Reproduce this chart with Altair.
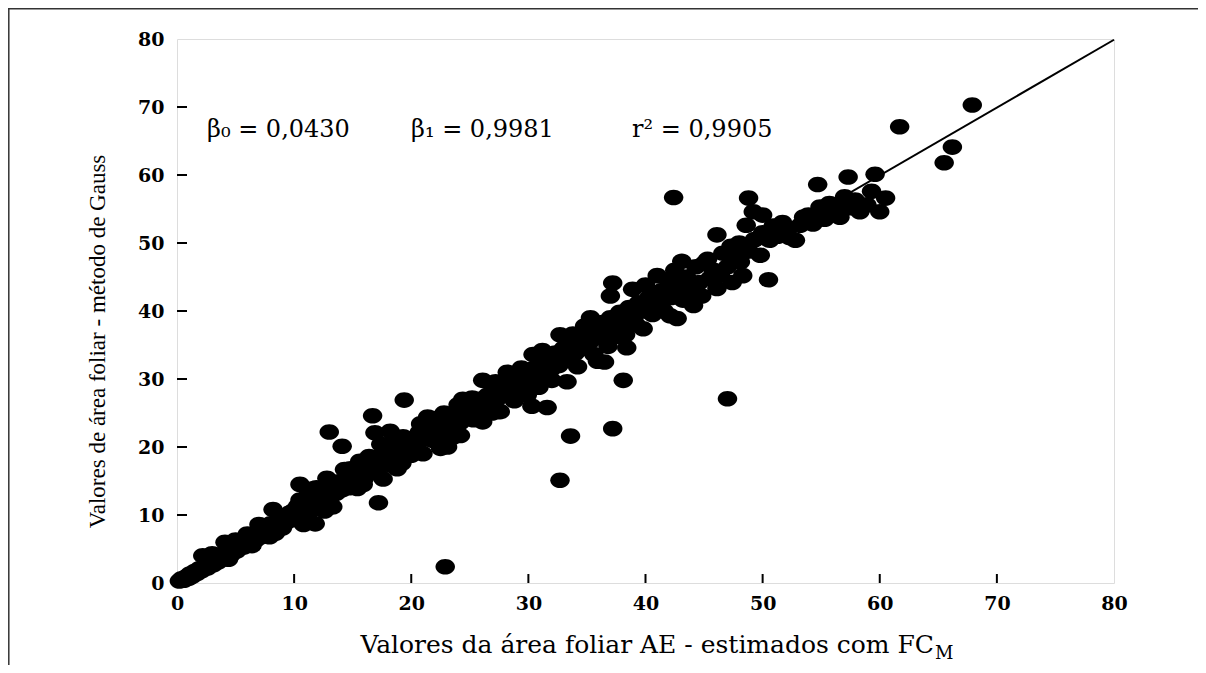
import altair as alt
import pandas as pd

# ---- values ----
B0 = 0.0430
B1 = 0.9981
R2 = 0.9905

AXIS_VALUES = [0, 10, 20, 30, 40, 50, 60, 70, 80]
INNER_TICKS = [10, 20, 30, 40, 50, 60, 70]

X_TITLE = "Valores da área foliar AE - estimados com FC"
X_TITLE_SUB = "M"
Y_TITLE = "Valores de área foliar - método de Gauss"

BAND_00_10 = [
    (0.2, 0.3), (0.4, 0.6), (0.6, 0.4), (0.8, 0.9), (1.0, 0.7), (1.1, 1.3), (1.3, 1.0),
    (1.5, 1.7), (1.7, 1.4), (1.9, 2.1), (2.1, 1.8), (2.2, 4.0), (2.4, 2.5), (2.6, 2.2),
    (2.9, 3.1), (3.1, 2.7), (3.3, 3.6), (3.5, 3.1), (3.8, 4.2), (4.0, 3.6), (4.1, 6.0),
    (4.3, 4.6), (4.6, 4.1), (4.9, 5.3), (5.1, 4.7), (5.4, 5.9), (6.0, 7.2), (5.7, 5.3),
    (6.0, 6.5), (6.2, 5.9), (6.5, 7.1), (6.7, 6.3), (7.0, 7.6), (7.2, 6.8), (7.5, 8.1),
    (7.7, 7.2), (7.9, 6.8), (8.0, 8.7), (8.3, 7.9), (8.2, 10.8), (8.6, 9.1), (8.8, 8.4),
    (9.1, 9.7), (9.3, 8.9), (9.6, 10.3), (9.8, 9.3), (10.0, 10.7), (3.0, 4.3),
    (5.0, 6.3), (7.0, 8.6), (9.0, 8.1), (6.4, 5.5), (4.4, 3.5), (8.4, 7.3),
]

BAND_10_20 = [
    (10.3, 11.3), (10.5, 14.5), (10.5, 12.2), (10.6, 10.1), (10.8, 8.6), (11.0, 11.5),
    (11.2, 13.0), (11.3, 10.4), (11.6, 12.0), (11.8, 8.7), (11.9, 14.0), (12.0, 11.0),
    (12.3, 12.8), (12.5, 13.6), (12.7, 11.5), (12.8, 15.4), (13.0, 22.2), (13.0, 12.3),
    (13.2, 14.3), (13.3, 11.2), (13.6, 13.2), (13.8, 14.9), (14.1, 20.1), (14.1, 13.7),
    (14.3, 16.7), (14.5, 15.2), (14.7, 14.0), (15.0, 16.0), (15.2, 14.8), (15.4, 13.9),
    (15.6, 17.9), (15.7, 16.3), (16.0, 15.4), (16.2, 17.0), (16.5, 16.2), (16.7, 24.6),
    (16.9, 22.1), (16.8, 17.8), (17.0, 16.5), (17.2, 11.8), (17.3, 18.6), (17.5, 17.4),
    (17.6, 15.3), (17.8, 19.5), (18.0, 18.2), (18.2, 22.3), (18.3, 17.3), (18.5, 19.0),
    (18.8, 16.8), (18.9, 20.2), (19.0, 18.5), (19.3, 21.5), (19.4, 26.9), (19.5, 19.2),
    (19.8, 20.4), (20.0, 18.8), (11.5, 13.8), (14.8, 16.8), (16.4, 18.6), (17.4, 20.4),
    (19.2, 17.6), (12.6, 10.6), (15.9, 14.5), (18.6, 21.4),
]

BAND_20_30 = [
    (20.2, 21.3), (20.5, 20.0), (20.7, 22.2), (21.0, 19.0), (21.0, 21.2), (21.4, 24.4),
    (21.4, 22.0), (21.8, 21.0), (22.0, 23.0), (22.3, 21.6), (22.5, 19.8), (22.6, 23.4),
    (22.9, 2.4), (23.0, 22.4), (23.1, 20.0), (23.3, 24.1), (23.6, 23.0), (23.9, 24.8),
    (24.2, 21.7), (24.2, 23.6), (24.4, 27.0), (24.5, 25.3), (24.8, 24.4), (25.0, 26.0),
    (25.3, 24.0), (25.5, 25.8), (25.8, 27.0), (26.1, 29.8), (26.1, 23.7), (26.2, 25.7),
    (26.5, 27.6), (26.8, 26.4), (27.0, 28.3), (27.3, 27.0), (27.6, 25.2), (27.6, 29.0),
    (28.0, 27.8), (28.2, 31.0), (28.3, 29.5), (28.6, 28.4), (29.0, 30.0), (29.3, 28.8),
    (29.6, 30.8), (29.9, 27.6), (30.0, 29.6), (20.8, 23.4), (22.8, 25.0), (24.0, 26.2),
    (25.8, 24.6), (27.2, 29.6), (28.8, 26.8), (29.4, 31.6), (21.9, 24.2), (23.5, 21.4),
    (25.2, 27.2), (26.9, 25.0), (28.5, 30.6),
]

BAND_30_40 = [
    (30.3, 26.0), (30.4, 33.6), (30.4, 31.5), (30.7, 30.2), (31.0, 32.3), (31.3, 30.6),
    (31.6, 25.8), (31.6, 33.0), (32.0, 31.5), (32.3, 33.8), (32.6, 32.0), (32.7, 36.5),
    (32.7, 15.1), (33.0, 34.5), (33.3, 29.6), (33.3, 33.2), (33.6, 21.6), (33.6, 35.3),
    (34.0, 33.8), (34.3, 36.0), (34.6, 34.5), (35.0, 36.8), (35.3, 39.0), (35.3, 35.5),
    (35.6, 37.5), (35.9, 32.6), (36.0, 36.2), (36.3, 38.3), (36.5, 32.5), (36.6, 37.0),
    (37.0, 42.2), (37.0, 39.0), (37.2, 44.1), (37.2, 22.7), (37.3, 37.8), (37.6, 36.3),
    (37.8, 39.8), (38.1, 29.8), (38.3, 36.5), (38.2, 38.5), (38.4, 34.6), (38.6, 40.5),
    (38.9, 43.2), (39.0, 39.0), (39.4, 41.2), (39.8, 37.4), (39.9, 40.0), (31.2, 34.2),
    (32.0, 29.8), (34.2, 31.8), (34.8, 37.8), (36.8, 34.8), (39.2, 38.0), (30.9, 28.8),
    (33.8, 36.6), (35.6, 33.6),
]

BAND_40_50 = [
    (40.3, 42.0), (40.6, 39.5), (41.0, 45.2), (41.0, 41.5), (41.4, 43.0), (41.6, 40.0),
    (42.0, 44.5), (42.1, 39.3), (42.2, 42.0), (42.4, 56.7), (42.5, 46.0), (42.7, 38.9),
    (42.8, 43.5), (43.1, 47.3), (43.2, 41.6), (43.5, 45.0), (43.8, 43.0), (44.1, 40.8),
    (44.3, 46.5), (44.6, 44.2), (45.0, 47.0), (45.3, 47.6), (45.5, 44.8), (45.8, 46.0),
    (46.1, 51.2), (46.1, 43.3), (46.4, 45.3), (46.6, 48.5), (47.0, 27.1), (47.0, 46.5),
    (47.3, 49.5), (47.7, 47.8), (48.0, 50.0), (48.1, 47.2), (48.3, 45.2), (48.6, 52.6),
    (48.8, 56.6), (48.8, 48.8), (49.2, 54.6), (49.3, 50.5), (49.8, 48.2), (50.0, 54.1),
    (50.0, 51.5), (40.0, 43.8), (44.8, 42.2), (47.4, 44.2),
]

BAND_50_70 = [
    (50.5, 44.6), (50.6, 50.4), (50.9, 52.5), (51.3, 51.0), (51.7, 53.0), (52.0, 52.2),
    (52.3, 50.8), (52.8, 50.4), (53.2, 52.6), (53.5, 53.8), (53.9, 54.1), (54.3, 52.8),
    (54.7, 58.6), (54.9, 55.3), (55.3, 53.5), (55.7, 55.8), (56.3, 54.9), (56.6, 53.8),
    (57.0, 56.8), (57.3, 59.7), (57.5, 55.2), (57.9, 56.3), (58.3, 54.6), (58.9, 55.6),
    (59.3, 57.6), (59.6, 60.1), (60.0, 54.6), (60.5, 56.6),
    (61.7, 67.1), (65.5, 61.8), (66.2, 64.1), (67.9, 70.3),
]

# ---- tables ----
pts = BAND_00_10 + BAND_10_20 + BAND_20_30 + BAND_30_40 + BAND_40_50 + BAND_50_70
df = pd.DataFrame(pts, columns=["x", "y"])

fit_x = [AXIS_VALUES[0], AXIS_VALUES[-1]]
fit = pd.DataFrame({"x": fit_x, "y": [B0 + B1 * v for v in fit_x]})

def fmt(v):
    return f"{v:.4f}".replace(".", ",")

annot = pd.DataFrame({
    "text": [f"β₀ = {fmt(B0)}", f"β₁ = {fmt(B1)}", f"r² = {fmt(R2)}"],
    "px": [30, 234, 455],
})

ticks = pd.DataFrame({"v": INNER_TICKS})

W, H = 937, 544
FONT = "DejaVu Serif"
FONT_Y = "Liberation Serif"

xs = alt.Scale(domain=[0, 80], nice=False, zero=True)
ys = alt.Scale(domain=[0, 80], nice=False, zero=True)

ELLIPSE = "M -1 0 A 1 0.8 0 1 1 1 0 A 1 0.8 0 1 1 -1 0 Z"

points = alt.Chart(df).mark_point(
    shape=ELLIPSE, filled=True, color="black", opacity=1, size=380, strokeWidth=0
).encode(
    x=alt.X("x:Q", scale=xs, axis=alt.Axis(
        values=AXIS_VALUES, title=None, ticks=False, domain=False, grid=False,
        labelFont=FONT, labelFontSize=19, labelFontWeight="bold", labelColor="black",
        labelPadding=11, labelFlush=False)),
    y=alt.Y("y:Q", scale=ys, axis=alt.Axis(
        values=AXIS_VALUES, title=Y_TITLE, ticks=False, domain=False, grid=False,
        labelFont=FONT, labelFontSize=19, labelFontWeight="bold", labelColor="black",
        labelPadding=13, labelFlush=False,
        titleFont=FONT_Y, titleFontSize=23, titleFontWeight="normal", titleColor="black",
        titlePadding=28, titleY=302)),
)

line = alt.Chart(fit).mark_line(color="black", strokeWidth=2).encode(
    x=alt.X("x:Q", scale=xs), y=alt.Y("y:Q", scale=ys)
)

xticks = alt.Chart(ticks).mark_rule(color="black", strokeWidth=2).encode(
    x=alt.X("v:Q", scale=xs), y=alt.value(H), y2=alt.value(H - 9)
)
yticks = alt.Chart(ticks).mark_rule(color="black", strokeWidth=2).encode(
    y=alt.Y("v:Q", scale=ys), x=alt.value(0), x2=alt.value(10)
)

labels = alt.Chart(annot).mark_text(
    font=FONT, fontSize=24, align="left", baseline="alphabetic", color="black"
).encode(x=alt.X("px:Q", scale=None), y=alt.value(98), text="text:N")

one = alt.Data(values=[{"k": 1}])
xtitle = alt.Chart(one).mark_text(
    font=FONT, fontSize=25, align="right", baseline="alphabetic", color="black"
).encode(x=alt.value(757), y=alt.value(614), text=alt.value(X_TITLE))
xsub = alt.Chart(one).mark_text(
    font=FONT, fontSize=18, align="left", baseline="alphabetic", color="black"
).encode(x=alt.value(758), y=alt.value(620), text=alt.value(X_TITLE_SUB))

frame_left = alt.Chart(one).mark_rule(color="#333", strokeWidth=1.5).encode(
    x=alt.value(-168.2), y=alt.value(-31), y2=alt.value(640)
)
frame_top = alt.Chart(one).mark_rule(color="#333", strokeWidth=1.5).encode(
    x=alt.value(-169), x2=alt.value(1030), y=alt.value(-30.2)
)

chart = alt.layer(
    line, points, xticks, yticks, labels, xtitle, xsub, frame_left, frame_top
).properties(
    width=W, height=H,
    autosize=alt.AutoSizeParams(type="none"),
    padding={"left": 169, "top": 31, "right": 84, "bottom": 82},
).configure_view(
    stroke="black", strokeWidth=2
).configure(background="white")

chart.save("out.html", embed_options={"renderer": "svg", "actions": False})
